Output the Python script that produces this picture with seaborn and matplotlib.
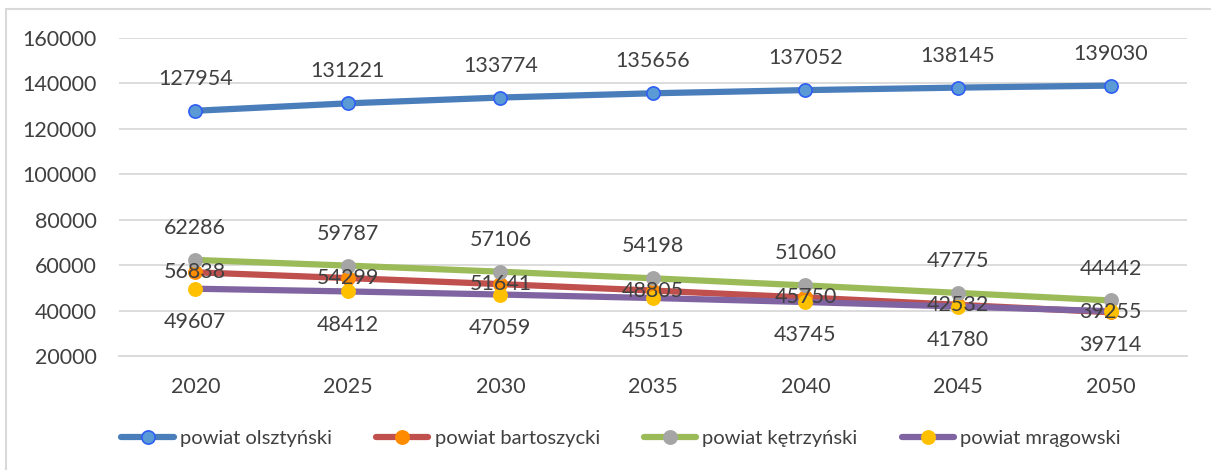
import pandas as pd
import numpy as np
import matplotlib
matplotlib.use('Agg')
import matplotlib.pyplot as plt
import seaborn as sns
from matplotlib.patches import Rectangle

# dane
lata = ['2020', '2025', '2030', '2035', '2040', '2045', '2050']
olsztynski = [127954, 131221, 133774, 135656, 137052, 138145, 139030]
bartoszycki = [56838, 54299, 51641, 48805, 45750, 42532, 39255]
ketrzynski = [62286, 59787, 57106, 54198, 51060, 47775, 44442]
mragowski = [49607, 48412, 47059, 45515, 43745, 41780, 39714]

serie = [
    ('powiat olsztyński', olsztynski, '#4A7EBB', '#5B9BD5', '#2F5EF5', 23),
    ('powiat bartoszycki', bartoszycki, '#C0504D', '#FF8C00', '#FF8C00', 0),
    ('powiat kętrzyński', ketrzynski, '#9BBB59', '#A5A5A5', '#A5A5A5', 23),
    ('powiat mrągowski', mragowski, '#8064A2', '#FFC000', '#FFC000', -24),
]

sns.set_theme(style='white')
plt.rcParams['font.family'] = ['Lato', 'DejaVu Sans']

fig = plt.figure(figsize=(12.11, 4.70), dpi=100)
ax = fig.add_axes([0.0983, 0.2426, 0.8817, 0.6766])

# ramka wykresu
fig.add_artist(Rectangle((6 / 1211, -0.1), 1.2, 1 - 9 / 470 + 0.1,
                         transform=fig.transFigure, fill=False,
                         edgecolor='#D9D9D9', linewidth=1.5))

for nazwa, wartosci, kolor, wypelnienie, krawedz, przes in serie:
    df = pd.DataFrame({'rok': lata, 'wartosc': wartosci})
    sns.lineplot(data=df, x='rok', y='wartosc', ax=ax, color=kolor,
                 linewidth=4.5, marker='o', markersize=9.5,
                 markerfacecolor=wypelnienie, markeredgecolor=krawedz,
                 markeredgewidth=1.2, label=nazwa, zorder=3)
    for i, v in enumerate(wartosci):
        ax.annotate(str(v), (i, v), xytext=(0, przes), textcoords='offset points',
                    ha='center', va='center', fontsize=15.5, color='#404040', zorder=5)

ax.set_xlim(-0.5, 6.5)
ax.set_ylim(20000, 160000)
ax.set_yticks(np.arange(20000, 160001, 20000))
ax.grid(axis='y', color='#D9D9D9', linewidth=1.3)
ax.set_axisbelow(True)
for s in ['top', 'right', 'left']:
    ax.spines[s].set_visible(False)
ax.spines['bottom'].set_color('#D9D9D9')
ax.spines['bottom'].set_linewidth(1.3)
ax.tick_params(axis='y', length=0, pad=16, labelsize=15.5, labelcolor='#404040')
ax.tick_params(axis='x', length=0, pad=15, labelsize=15.5, labelcolor='#404040')
ax.set_xlabel('')
ax.set_ylabel('')

uchwyty, etykiety = ax.get_legend_handles_labels()
ax.get_legend().remove()
fig.legend(uchwyty, etykiety, loc='center', bbox_to_anchor=(0.513, 0.068),
           ncol=4, frameon=False, fontsize=14.5, handlelength=2.6,
           handletextpad=0.3, columnspacing=2.2, labelcolor='#404040')

plt.savefig('out.png', dpi=100)
